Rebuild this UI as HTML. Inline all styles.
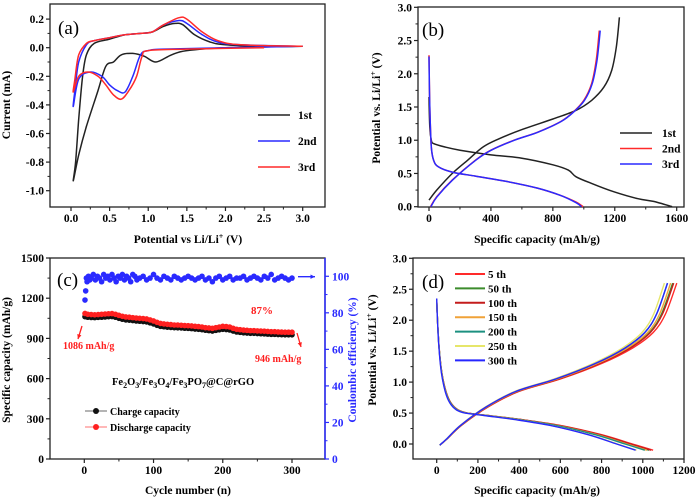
<!DOCTYPE html>
<html><head><meta charset="utf-8"><style>
html,body{margin:0;padding:0;background:#fff;}
svg{display:block;font-family:"Liberation Serif",serif;font-weight:bold;}
</style></head><body>
<svg id="fig" width="700" height="502" viewBox="0 0 700 502" xmlns="http://www.w3.org/2000/svg"></svg>
<script>
// ---------- Panel (a) CV data: [potential V, current mA] ----------
const cv1 = [[3.0,0.01],[2.0,0.0],[1.5,-0.02],[1.3,-0.05],[1.1,-0.1],[0.95,-0.06],[0.8,-0.04],[0.65,-0.05],[0.55,-0.1],[0.45,-0.13],[0.35,-0.3],[0.2,-0.55],[0.1,-0.75],[0.03,-0.93],[0.06,-0.8],[0.1,-0.5],[0.15,-0.2],[0.2,-0.05],[0.3,0.03],[0.5,0.06],[0.7,0.09],[0.9,0.1],[1.05,0.11],[1.2,0.15],[1.35,0.17],[1.45,0.16],[1.6,0.09],[1.8,0.04],[2.0,0.02],[2.5,0.01],[3.0,0.01]];
const cv2 = [[3.0,0.01],[2.0,0.0],[1.2,-0.01],[1.0,-0.02],[0.9,-0.05],[0.8,-0.2],[0.7,-0.31],[0.6,-0.3],[0.5,-0.26],[0.4,-0.2],[0.25,-0.17],[0.1,-0.22],[0.03,-0.41],[0.05,-0.3],[0.1,-0.1],[0.2,0.02],[0.3,0.05],[0.5,0.07],[0.7,0.09],[0.9,0.1],[1.05,0.11],[1.2,0.16],[1.4,0.19],[1.5,0.17],[1.7,0.09],[1.9,0.04],[2.2,0.02],[3.0,0.01]];
const cv3 = [[2.5,0.0],[1.5,-0.01],[1.0,-0.02],[0.92,-0.06],[0.85,-0.2],[0.75,-0.3],[0.65,-0.36],[0.55,-0.33],[0.45,-0.26],[0.35,-0.2],[0.22,-0.17],[0.1,-0.2],[0.03,-0.31],[0.05,-0.22],[0.1,-0.05],[0.2,0.03],[0.3,0.05],[0.5,0.07],[0.7,0.09],[0.9,0.1],[1.05,0.11],[1.2,0.16],[1.4,0.21],[1.5,0.2],[1.7,0.11],[1.9,0.05],[2.2,0.02],[3.0,0.01]];
const cvLabels = ["1st","2nd","3rd"];
const aXTicks = [0,0.5,1.0,1.5,2.0,2.5,3.0];
const aYTicks = [-1.0,-0.8,-0.6,-0.4,-0.2,0.0,0.2];

// ---------- Panel (b) charge/discharge: [capacity, potential] ----------
const b1Dis = [[0,1.65],[5,1.2],[15,1.0],[30,0.95],[100,0.9],[200,0.85],[400,0.78],[600,0.73],[800,0.63],[900,0.55],[950,0.45],[1050,0.35],[1200,0.22],[1350,0.12],[1450,0.08],[1570,0.0]];
const b1Chg = [[0,0.1],[50,0.25],[150,0.5],[250,0.7],[350,0.9],[450,1.02],[600,1.16],[800,1.32],[950,1.45],[1050,1.6],[1130,1.8],[1180,2.05],[1210,2.4],[1230,2.85]];
const b2Dis = [[0,2.28],[5,1.5],[15,0.9],[30,0.7],[60,0.6],[150,0.52],[300,0.46],[500,0.38],[700,0.28],[850,0.17],[950,0.07],[995,0.0]];
const b2Chg = [[10,0.0],[50,0.15],[150,0.4],[300,0.7],[400,0.85],[550,1.0],[700,1.12],[850,1.28],[930,1.42],[1000,1.6],[1050,1.85],[1080,2.2],[1100,2.65]];
const b3Dis = [[0,2.26],[5,1.5],[15,0.9],[30,0.7],[60,0.6],[150,0.52],[300,0.46],[500,0.38],[700,0.28],[850,0.17],[950,0.06],[985,0.0]];
const b3Chg = [[12,0.0],[52,0.15],[152,0.4],[302,0.7],[402,0.85],[552,1.0],[702,1.12],[852,1.28],[932,1.42],[1004,1.6],[1054,1.85],[1085,2.2],[1106,2.65]];
const bXTicks = [0,400,800,1200,1600];
const bYTicks = [0.0,0.5,1.0,1.5,2.0,2.5,3.0];

// ---------- Panel (c) cycling: every 5 cycles ----------
const cCycles = [1,5,10,15,20,25,30,35,40,45,50,55,60,65,70,75,80,85,90,95,100,105,110,115,120,125,130,135,140,145,150,155,160,165,170,175,180,185,190,195,200,205,210,215,220,225,230,235,240,245,250,255,260,265,270,275,280,285,290,295,300];
const cDischarge = [1086,1080,1078,1076,1078,1080,1082,1084,1085,1080,1072,1065,1060,1058,1055,1052,1050,1048,1045,1038,1030,1020,1012,1008,1005,1003,1000,1000,998,996,995,993,990,988,985,980,978,975,980,985,990,988,985,975,968,965,962,960,958,958,956,955,954,952,950,950,948,947,946,946,946];
const cCharge = [1062,1058,1056,1055,1057,1058,1060,1062,1063,1058,1050,1043,1038,1036,1033,1030,1028,1026,1023,1016,1008,998,990,987,984,982,980,979,978,976,975,973,970,968,965,961,958,955,960,964,968,966,963,955,948,945,942,940,938,938,936,935,934,932,930,930,929,928,927,927,927];
const ceCycles = [1,2,3,4,6,8,10,13,16,19,22,25,28,31,34,37,40,43,46,49,52,55,58,61,64,67,70,73,76,80,85,90,95,100,105,110,115,120,125,130,135,140,145,150,155,160,165,170,175,180,185,190,195,200,205,210,215,220,225,230,235,240,245,250,255,260,265,270,275,280,285,290,295,300];
const ceValues = [87,92,99,97,100,98,99,101,98,100,99,97,101,99,100,98,101,99,97,100,99,101,98,100,99,97,101,100,98,99,100,98,99,101,99,98,100,99,98,100,99,98,99,100,99,98,99,100,98,99,97,99,100,98,99,100,98,99,99,100,98,99,100,99,98,100,99,101,98,99,100,99,98,99];
const cXTicks = [0,100,200,300];
const cYTicks = [0,300,600,900,1200,1500];
const cY2Ticks = [0,20,40,60,80,100];

// ---------- Panel (d) selected cycles ----------
const dLabels = ["5 th","50 th","100 th","150 th","200 th","250 th","300 th"];
const dColors = ["#ff2a2a","#3c8c2c","#c41c1c","#f0a238","#1c9080","#e6e66a","#2626ff"];
const dDisEnd = [1050,1030,1040,1020,1010,970,965];
const dChgEnd = [1165,1145,1150,1135,1120,1105,1120];
const dDisShape = [[0,2.35],[4,2.0],[12,1.55],[25,1.15],[45,0.85],[70,0.66],[105,0.55],[150,0.5],[250,0.46],[400,0.4],[600,0.3],[800,0.15],[950,0.0],[1050,-0.1]];
const dChgShape = [[15,-0.02],[50,0.08],[120,0.3],[250,0.6],[400,0.85],[600,1.05],[800,1.3],[950,1.55],[1050,1.8],[1110,2.1],[1165,2.6]];
const dXTicks = [0,200,400,600,800,1000,1200];
const dYTicks = [0.0,0.5,1.0,1.5,2.0,2.5,3.0];

const NS = "http://www.w3.org/2000/svg";
const svg = document.getElementById("fig");
function mk(tag, a, p){ const e=document.createElementNS(NS,tag); for(const k in a) e.setAttribute(k,a[k]); (p||svg).appendChild(e); return e; }
function lin(d0,d1,r0,r1){ return v => r0 + (v-d0)*(r1-r0)/(d1-d0); }
function smooth(pts){
  let d="M"+pts[0][0].toFixed(1)+","+pts[0][1].toFixed(1);
  for(let i=0;i<pts.length-1;i++){
    const p0=pts[Math.max(0,i-1)],p1=pts[i],p2=pts[i+1],p3=pts[Math.min(pts.length-1,i+2)];
    const c1=[p1[0]+(p2[0]-p0[0])/6,p1[1]+(p2[1]-p0[1])/6], c2=[p2[0]-(p3[0]-p1[0])/6,p2[1]-(p3[1]-p1[1])/6];
    d+="C"+c1[0].toFixed(1)+","+c1[1].toFixed(1)+" "+c2[0].toFixed(1)+","+c2[1].toFixed(1)+" "+p2[0].toFixed(1)+","+p2[1].toFixed(1);
  }
  return d;
}
function txt(p,x,y,s,size,anchor,fill,extra){
  const t=mk("text",Object.assign({x:x,y:y,"font-size":size,"text-anchor":anchor||"middle",fill:fill||"#000"},extra||{}),p);
  t.textContent=s; return t;
}
function curve(p,data,sx,sy,color,w){
  return mk("path",{d:smooth(data.map(q=>[sx(q[0]),sy(q[1])])),fill:"none",stroke:color,"stroke-width":w||1.5,"stroke-linejoin":"round"},p);
}
function axes(p,F,sx,sy,xt,yt,xf,yf,yColor){
  const fr=mk("rect",{x:F.l,y:F.t,width:F.r-F.l,height:F.b-F.t,fill:"none",stroke:"#222","stroke-width":1.3},p);
  
  
  xt.forEach(v=>{ const x=sx(v); mk("line",{x1:x,x2:x,y1:F.b,y2:F.b+4,stroke:"#222","stroke-width":1.2},p);
    const t=txt(p,x,F.b+15,xf(v),11.5);
    
     });
  for(let i=0;i<xt.length-1;i++){ const x=sx((xt[i]+xt[i+1])/2); mk("line",{x1:x,x2:x,y1:F.b,y2:F.b+2.5,stroke:"#222","stroke-width":1},p); }
  yt.forEach(v=>{ const y=sy(v); mk("line",{x1:F.l-4,x2:F.l,y1:y,y2:y,stroke:"#222","stroke-width":1.2},p);
    const t=txt(p,F.l-6,y+4,yf(v),11.5,"end",yColor);
    
     });
  for(let i=0;i<yt.length-1;i++){ const y=sy((yt[i]+yt[i+1])/2); mk("line",{x1:F.l-2.5,x2:F.l,y1:y,y2:y,stroke:"#222","stroke-width":1},p); }
}
function ytitle(p,x,y,s,color){ const t=mk("text",{x:0,y:0,"font-size":11.5,"text-anchor":"middle",fill:color||"#000",transform:`translate(${x},${y}) rotate(-90)`},p); t.innerHTML=s; return t; }
function xtitle(p,x,y,s){ const t=mk("text",{x:x,y:y,"font-size":11.5,"text-anchor":"middle"},p); t.innerHTML=s; return t; }
const f1=v=>v.toFixed(1), f0=v=>String(v);

// ===== Panel A =====
const gA=mk("g",{});  
const FA={l:50,r:325,t:4,b:207};
const axA=lin(0,3,71,302.7), ayA=lin(0,-1,47.7,190.7);
axes(gA,FA,axA,ayA,aXTicks,aYTicks,f1,f1);
[[cv1,"#222"],[cv2,"#2a2aff"],[cv3,"#ff2a2a"]].forEach((s,i)=>{
  const c=curve(gA,s[0],axA,ayA,s[1]);
  
  
  const ly=115+i*26;
  const l=mk("line",{x1:258,x2:290,y1:ly,y2:ly,stroke:s[1],"stroke-width":1.5},gA);
  
  
  const t=txt(gA,298,ly+4,cvLabels[i],11.5,"start");
  
  
});
const pa=txt(gA,58,34,"(a)",19,"start","#000",{"font-weight":"normal"});  
const ya=ytitle(gA,10,105,"Current (mA)");  
const xa=xtitle(gA,188,243,'Potential vs Li/Li<tspan baseline-shift="super" font-size="8">+</tspan> (V)');  

// ===== Panel B =====
const gB=mk("g",{});  
const FB={l:418,r:684,t:7,b:207};
const axB=lin(0,1600,429,676.7), ayB=lin(0,3,206.7,7.3);
axes(gB,FB,axB,ayB,bXTicks,bYTicks,f0,f1);
const bSeries=[[b1Dis,b1Chg,"#222","1st"],[b2Dis,b2Chg,"#ff2a2a","2nd"],[b3Dis,b3Chg,"#2a2aff","3rd"]];
bSeries.forEach((s,i)=>{
  const c1=curve(gB,s[0],axB,ayB,s[2]);  
  const c2=curve(gB,s[1],axB,ayB,s[2]);  
  const ly=133+i*15.5;
  const l=mk("line",{x1:620,x2:652,y1:ly,y2:ly,stroke:s[2],"stroke-width":1.5},gB);  
  const t=txt(gB,662,ly+4,s[3],11.5,"start");  
});
const pb=txt(gB,422,36,"(b)",19,"start","#000",{"font-weight":"normal"});  
const yb=ytitle(gB,380,108,'Potential vs. Li/Li<tspan baseline-shift="super" font-size="8">+</tspan> (V)');  
const xb=xtitle(gB,537,243,"Specific capacity (mAh/g)");  

// ===== Panel C =====
const gC=mk("g",{});  
const FC={l:50,r:325,t:258,b:459};
const axC=lin(0,300,84.3,292), ayC=lin(0,1500,459,258), ayC2=lin(0,110,459,258);
axes(gC,FC,axC,ayC,cXTicks,cYTicks,f0,f0);
cY2Ticks.forEach(v=>{ const y=ayC2(v); mk("line",{x1:FC.r,x2:FC.r+4,y1:y,y2:y,stroke:"#2a2aff","stroke-width":1.2},gC);
  const t=txt(gC,FC.r+7,y+4,String(v),11.5,"start","#2a2aff");   });
for(let i=0;i<cY2Ticks.length-1;i++){ const y=ayC2(cY2Ticks[i]+10); mk("line",{x1:FC.r,x2:FC.r+2.5,y1:y,y2:y,stroke:"#2a2aff","stroke-width":1},gC); }
mk("line",{x1:FC.r,x2:FC.r,y1:FC.t,y2:FC.b,stroke:"#2a2aff","stroke-width":1.5},gC);
cCycles.forEach((c,i)=>{
  const m1=mk("circle",{cx:axC(c),cy:ayC(cCharge[i]),r:2.8,fill:"#111"},gC);  
});
cCycles.forEach((c,i)=>{
  const m2=mk("circle",{cx:axC(c),cy:ayC(cDischarge[i]),r:2.8,fill:"#ff2020"},gC);  
});
ceCycles.forEach((c,i)=>{
  const m=mk("circle",{cx:axC(c),cy:ayC2(ceValues[i]),r:2.8,fill:"#2a2aff"},gC);  
});
function arrow(p,x1,y1,x2,y2,color){
  mk("line",{x1:x1,y1:y1,x2:x2,y2:y2,stroke:color,"stroke-width":1.3},p);
  const a=Math.atan2(y2-y1,x2-x1),L=5;
  mk("path",{d:`M${x2},${y2}L${x2-L*Math.cos(a-0.45)},${y2-L*Math.sin(a-0.45)}L${x2-L*Math.cos(a+0.45)},${y2-L*Math.sin(a+0.45)}Z`,fill:color},p);
}
arrow(gC,298,276.7,315,276.7,"#2a2aff");
arrow(gC,82,326,78,339,"#ff2020");
arrow(gC,297,333,301,347,"#ff2020");
const an1=txt(gC,63,349,"1086 mAh/g",10,"start","#ff2020");  
const an2=txt(gC,255,362,"946 mAh/g",10,"start","#ff2020");  
const an3=txt(gC,262,314,"87%",11,"middle","#ff2020");  
const fm=mk("text",{x:112,y:385,"font-size":10.5,"text-anchor":"start"},gC);
fm.innerHTML='Fe<tspan font-size="8" dy="3">2</tspan><tspan dy="-3">O</tspan><tspan font-size="8" dy="3">3</tspan><tspan dy="-3">/Fe</tspan><tspan font-size="8" dy="3">3</tspan><tspan dy="-3">O</tspan><tspan font-size="8" dy="3">4</tspan><tspan dy="-3">/Fe</tspan><tspan font-size="8" dy="3">3</tspan><tspan dy="-3">PO</tspan><tspan font-size="8" dy="3">7</tspan><tspan dy="-3">@C@rGO</tspan>';
 
[["Charge capacity","#111",411],["Discharge capacity","#ff2020",427]].forEach(s=>{
  mk("line",{x1:85,x2:107,y1:s[2],y2:s[2],stroke:s[1],"stroke-width":1.2,opacity:0.5},gC);
  mk("circle",{cx:96,cy:s[2],r:3,fill:s[1]},gC);
  const t=txt(gC,110,s[2]+4,s[0],10,"start");  
});
const pc=txt(gC,57,286,"(c)",19,"start","#000",{"font-weight":"normal"});  
const yc=ytitle(gC,10,360,"Specific capacity (mAh/g)");  
const yc2=ytitle(gC,356,360,"Coulombic efficiency (%)","#2a2aff");  
const xc=xtitle(gC,188,494,"Cycle number (n)");  

// ===== Panel D =====
const gD=mk("g",{});  
const FD={l:413,r:684,t:258,b:459};
const axD=lin(0,1200,436.7,684), ayD=lin(0,3,444,258.3);
axes(gD,FD,axD,ayD,dXTicks,dYTicks,f0,f1);
const disRef=dDisShape[dDisShape.length-1][0], chgRef=dChgShape[dChgShape.length-1][0];
dLabels.forEach((lab,i)=>{
  const dis=dDisShape.map(q=>[q[0]*dDisEnd[i]/disRef,q[1]]);
  const chg=dChgShape.map(q=>[q[0]*dChgEnd[i]/chgRef,q[1]]);
  const c1=curve(gD,dis,axD,ayD,dColors[i],1.4);  
  const c2=curve(gD,chg,axD,ayD,dColors[i],1.4);  
  const ly=274+i*14.4;
  const l=mk("line",{x1:455,x2:485,y1:ly,y2:ly,stroke:dColors[i],"stroke-width":2},gD);  
  const t=txt(gD,488,ly+4,lab,11,"start");  
});
const pd=txt(gD,422,288,"(d)",19,"start","#000",{"font-weight":"normal"});  
const yd=ytitle(gD,376,350,'Potential vs. Li/Li<tspan baseline-shift="super" font-size="8">+</tspan> (V)');  
const xd=xtitle(gD,537,494,"Specific capacity (mAh/g)");  
</script>
</body></html>
